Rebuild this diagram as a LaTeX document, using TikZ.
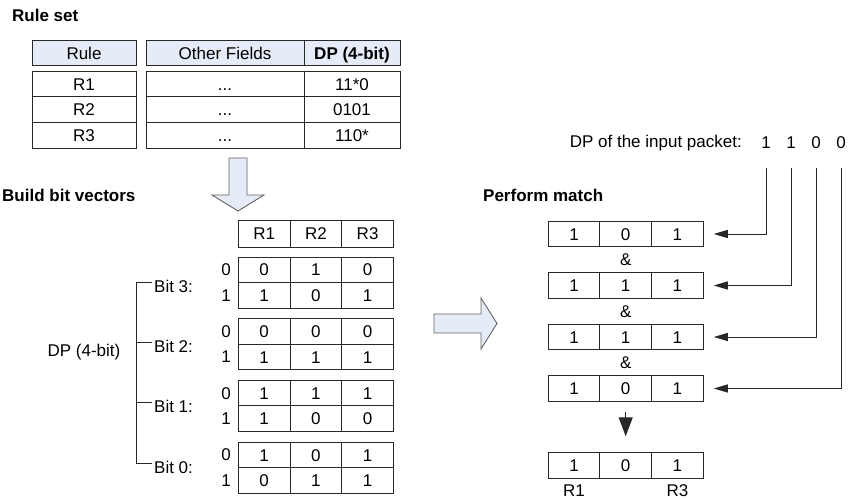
\documentclass[tikz,border=0pt]{standalone}
\usepackage{fontspec}
\setmainfont{Liberation Sans}
\usetikzlibrary{arrows.meta}
\definecolor{hdr}{RGB}{229,236,247}
\definecolor{ln}{RGB}{40,40,40}
\definecolor{arr}{RGB}{100,100,100}
\begin{document}
\begin{tikzpicture}[x=1pt,y=-1pt,
  every node/.style={font=\fontsize{17}{20}\selectfont, inner sep=0pt},
  cell/.style={draw=ln, line width=1pt, minimum height=25.5pt, inner sep=0pt, anchor=center, text height=12.4pt, text depth=0pt},
  hcell/.style={cell, fill=hdr},
  bcell/.style={cell, minimum width=51.7pt},
  conn/.style={draw=ln, line width=1pt, -{Triangle[length=14pt,width=8pt]}},
  fat/.style={draw=arr, fill=hdr, line width=0.9pt, line join=miter},
  ttl/.style={font=\fontsize{17}{20}\selectfont\bfseries}]
\useasboundingbox (0,0) rectangle (849,500);

% ---------- Rule set ----------
\node[ttl, anchor=west] (ruleset) at (12,15) {Rule set};
\node[hcell, minimum width=104pt, minimum height=25pt] (hRule) at (84,53.5) {Rule};
\node[hcell, minimum width=158pt, minimum height=25pt] (hOther) at (225,53.5) {Other Fields};
\node[hcell, ttl, minimum width=96pt, minimum height=25pt] (hDP) at (352,53.5) {DP (4-bit)};
\foreach \r/\y/\v in {1/84/11*0, 2/109.7/0101, 3/135.3/110*}{
  \node[cell, minimum width=104pt, minimum height=25.6pt] (rr\r) at (84,\y) {R\r};
  \node[cell, minimum width=158pt, minimum height=25.6pt] (ro\r) at (225,\y) {...};
  \node[cell, minimum width=96pt, minimum height=25.6pt] (rd\r) at (352,\y) {\v};
}

% down fat arrow
\draw[fat] (229,158) -- (247,158) -- (247,195) -- (264,195) -- (238,211) -- (212,195) -- (229,195) -- cycle;

% ---------- Build bit vectors ----------
\node[ttl, anchor=west] (build) at (2,195) {Build bit vectors};
\node[bcell, minimum height=27pt] (hR1) at (264.2,233.5) {R1};
\node[bcell, minimum height=27pt] (hR2) at (315.9,233.5) {R2};
\node[bcell, minimum height=27pt] (hR3) at (367.6,233.5) {R3};

\foreach \i/\a/\b/\c/\d/\e/\f in {0/0/1/0/1/0/1, 1/0/0/0/1/1/1, 2/1/1/1/1/0/0, 3/1/0/1/0/1/1}{
  \pgfmathsetmacro{\ya}{257+61.7*\i+12.75}
  \pgfmathsetmacro{\yb}{257+61.7*\i+38.25}
  \node[bcell] (v\i a1) at (264.2,\ya) {\a};
  \node[bcell] (v\i a2) at (315.9,\ya) {\b};
  \node[bcell] (v\i a3) at (367.6,\ya) {\c};
  \node[bcell] (v\i b1) at (264.2,\yb) {\d};
  \node[bcell] (v\i b2) at (315.9,\yb) {\e};
  \node[bcell] (v\i b3) at (367.6,\yb) {\f};
  \node (l\i a) at (226,\ya) {0};
  \node (l\i b) at (226,\yb) {1};
}

% bracket
\node (dp) at (84,352) {DP (4-bit)};
\draw[ln, line width=1pt] (152,282) -- (136,282) -- (136,463) -- (152,463);
\draw[ln, line width=1pt] (136,342) -- (152,342);
\draw[ln, line width=1pt] (136,402) -- (152,402);
\node[anchor=west] (bit3) at (154,286) {Bit 3:};
\node[anchor=west] (bit2) at (154,346) {Bit 2:};
\node[anchor=west] (bit1) at (154,406) {Bit 1:};
\node[anchor=west] (bit0) at (154,467) {Bit 0:};

% right fat arrow
\draw[fat] (434,314) -- (481,314) -- (481,298) -- (497,323.5) -- (481,349) -- (481,333) -- (434,333) -- cycle;

% ---------- Perform match ----------
\node[ttl, anchor=west] (pm) at (483,195) {Perform match};
\foreach \j/\y/\a/\b/\c in {1/234/1/0/1, 2/285.5/1/1/1, 3/337/1/1/1, 4/388.5/1/0/1}{
  \node[bcell] (m\j c1) at (574,\y) {\a};
  \node[bcell] (m\j c2) at (625.7,\y) {\b};
  \node[bcell] (m\j c3) at (677.4,\y) {\c};
}
\node (amp1) at (625.7,260) {\&};
\node (amp2) at (625.7,311.5) {\&};
\node (amp3) at (625.7,363) {\&};

\node[bcell] (res1) at (574,465.5) {1};
\node[bcell] (res2) at (625.7,465.5) {0};
\node[bcell] (res3) at (677.4,465.5) {1};
\node (lr1) at (574,491) {R1};
\node (lr3) at (677.4,491) {R3};

\draw[ln, line width=1.2pt, shorten <=10pt, shorten >=16pt, -{Triangle[length=19pt,width=14pt]}] (m4c2.south) -- (res2.north);

% input packet
\node[anchor=east] (inp) at (742,143) {DP of the input packet:};
\node (d1) at (766,143) {1};
\node (d2) at (791,143) {1};
\node (d3) at (816,143) {0};
\node (d4) at (841,143) {0};
\draw[conn] ([yshift=-25pt]d1.center) |- ([xshift=10pt]m1c3.east);
\draw[conn] ([yshift=-25pt]d2.center) |- ([xshift=10pt]m2c3.east);
\draw[conn] ([yshift=-25pt]d3.center) |- ([xshift=10pt]m3c3.east);
\draw[conn] ([yshift=-25pt]d4.center) |- ([xshift=10pt]m4c3.east);
\end{tikzpicture}
\end{document}
